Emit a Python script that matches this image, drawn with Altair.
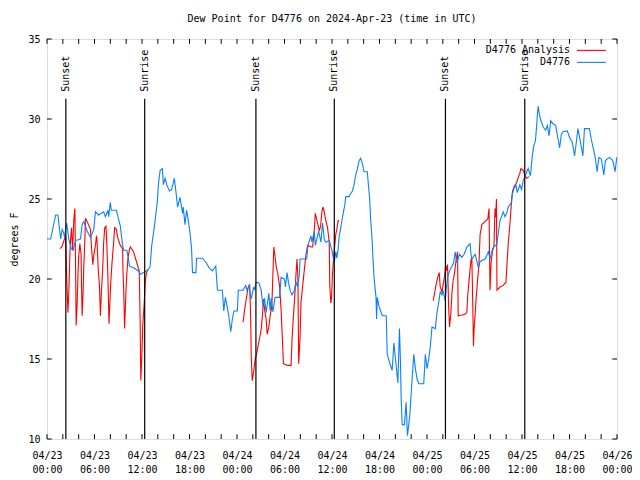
import altair as alt
import pandas as pd

# ---------------- data (hours since 2024-04-23 00:00 UTC, dew point in F) -------------
obs_hours = [0.00, 0.46, 1.09, 1.38, 1.72, 1.92, 2.10, 2.22, 2.48, 2.76, 3.05, 3.30, 3.61, 4.23,
             4.44, 4.65, 5.06, 5.49, 5.91, 6.12, 6.53, 7.16, 7.38, 7.70, 7.79, 8.00, 8.13, 8.76,
             9.26, 9.55, 9.68, 10.09, 10.43, 10.93, 11.56, 11.77, 12.19, 12.82, 13.03, 13.23,
             13.57, 13.95, 14.07, 14.29, 14.58, 14.70, 14.92, 15.12, 15.46, 15.75, 16.08, 16.30,
             16.50, 16.80, 17.13, 17.21, 17.43, 17.63, 17.84, 18.06, 18.26, 18.38, 18.81, 18.89,
             19.64, 20.14, 20.48, 20.90, 21.32, 21.53, 22.15, 22.33, 22.53, 22.78, 22.96, 23.21,
             23.41, 23.62, 24.04, 24.17, 24.76, 25.10, 25.26, 25.51, 25.80, 26.10, 26.22, 26.43,
             26.77, 27.06, 27.27, 27.48, 27.68, 28.02, 28.19, 28.31, 28.53, 28.81, 29.37, 29.57,
             30.00, 30.12, 30.32, 30.50, 30.70, 30.95, 31.25, 31.45, 31.67, 31.88, 31.96, 32.80,
             32.96, 33.34, 33.46, 33.76, 33.89, 34.09, 34.31, 34.60, 34.81, 35.02, 35.22, 35.65,
             35.98, 36.28, 36.48, 36.61, 36.78, 36.91, 37.07, 37.20, 37.45, 37.61, 37.74, 38.16,
             38.29, 38.58, 38.79, 38.99, 39.21, 39.42, 39.62, 39.84, 40.05, 40.46, 40.63, 40.76,
             40.88, 41.06, 41.18, 41.31, 41.56, 41.63, 41.72, 41.93, 42.35, 42.85, 42.98, 43.32,
             43.60, 43.82, 44.02, 44.14, 44.32, 44.52, 44.65, 44.74, 44.86, 45.15, 45.36, 45.53,
             45.70, 45.83, 46.12, 46.33, 46.53, 46.75, 46.96, 47.59, 47.79, 48.00, 48.22, 48.42,
             48.63, 49.05, 49.26, 49.47, 49.67, 49.89, 50.01, 50.30, 50.43, 50.64, 50.93, 51.36,
             51.56, 51.77, 52.11, 52.40, 52.69, 53.03, 53.44, 53.57, 53.66, 54.08, 54.50, 54.71,
             55.34, 55.76, 55.96, 56.30, 56.59, 56.80, 57.01, 57.22, 57.64, 57.84, 58.06, 58.27,
             58.68, 58.77, 59.02, 59.23, 59.40, 59.73, 59.94, 60.15, 60.48, 60.78, 61.07, 61.28,
             61.48, 61.70, 61.82, 61.95, 62.04, 62.16, 62.33, 62.67, 62.99, 63.21, 63.42, 63.62,
             63.92, 64.25, 64.55, 64.75, 64.97, 65.18, 65.72, 66.01, 66.35, 66.64, 66.85, 67.06,
             67.26, 67.69, 67.89, 68.52, 68.74, 69.03, 69.28, 69.49, 69.71, 70.03, 70.33, 70.54,
             71.04, 71.47, 71.76, 71.97]
obs_dew = [22.5, 22.5, 24.0, 24.0, 22.5, 23.1, 22.9, 22.6, 23.5, 22.5, 21.9, 21.8, 22.4, 22.5,
           23.4, 23.6, 23.0, 22.6, 23.1, 24.2, 24.0, 24.2, 23.9, 24.3, 23.9, 24.8, 24.3, 24.3,
           23.3, 22.1, 21.8, 21.8, 20.8, 20.7, 20.5, 20.3, 20.4, 20.6, 20.8, 22.1,
           23.3, 24.9, 25.9, 26.8, 26.9, 25.9, 26.3, 25.9, 25.5, 25.6, 26.3, 25.4,
           24.5, 25.1, 24.1, 24.5, 23.4, 24.3, 23.7, 22.9, 21.9, 20.4, 20.4, 21.3,
           21.3, 21.0, 20.7, 20.5, 20.8, 19.3, 19.3, 18.0, 18.85, 18.2, 17.7, 16.7,
           17.5, 18.0, 18.0, 19.3, 19.3, 19.6, 19.3, 19.6, 18.75, 19.5, 19.3, 19.8,
           19.75, 19.3, 18.3, 18.8, 17.9, 19.1, 18.0, 18.8, 17.95, 18.85, 18.85, 20.1,
           20.0, 19.5, 20.4, 19.8, 19.3, 19.0, 19.3, 19.8, 19.5, 20.3, 21.25, 21.25,
           22.1, 22.7, 22.3, 23.0, 22.1, 22.5, 23.0, 22.3, 23.5, 22.5, 22.3, 22.4,
           21.8, 21.0, 21.7, 21.3, 21.9, 22.7, 23.1, 23.5, 24.2, 24.6, 25.15, 25.15,
           25.3, 25.5, 25.9, 26.5, 26.9, 27.4, 27.55, 27.2, 26.7, 26.7, 25.7, 25.0,
           23.75, 22.5, 21.25, 20.1, 18.85, 17.5, 18.85, 18.3, 17.7, 17.7, 15.3, 14.7,
           14.3, 16.0, 15.0, 14.4, 13.5, 16.9, 14.8, 12.5, 10.9, 10.9, 12.3, 10.2,
           10.9, 11.5, 13.75, 15.3, 14.4, 13.75, 13.45, 13.45, 15.3, 14.4, 15.0, 15.8,
           17.0, 16.9, 17.9, 18.5, 19.2, 19.0, 19.3, 18.65, 19.4, 20.2, 20.6, 21.0,
           21.7, 21.0, 21.55, 21.35, 21.55, 22.0, 22.2, 21.5, 21.25, 21.55, 20.7, 21.1,
           21.25, 21.7, 21.25, 21.9, 22.1, 22.1, 22.9, 23.65, 24.2, 23.9, 24.1, 24.5,
           24.8, 25.3, 25.7, 25.9, 25.4, 25.9, 25.6, 26.15, 26.55, 26.9, 26.45, 27.6,
           28.3, 28.65, 29.4, 30.3, 30.8, 30.4, 30.0, 29.5, 29.3, 29.6, 28.95, 29.9,
           29.7, 29.6, 28.75, 28.2, 29.05, 29.2, 29.25, 28.85, 28.55, 27.7, 28.5, 29.4,
           28.9, 27.7, 29.4, 29.4, 28.75, 28.1, 27.5, 26.7, 27.6, 27.5, 26.5, 27.4,
           27.6, 27.4, 26.7, 27.6]

ana1_hours = [1.63, 1.88, 2.14, 2.35, 2.48, 2.64, 2.76, 2.89, 2.98, 3.10, 3.23, 3.39, 3.52, 3.61,
              3.68, 3.81, 3.93, 4.02, 4.15, 4.31, 4.36, 4.44, 4.56, 4.65, 4.78, 4.86, 5.06, 5.49,
              5.62, 5.78, 5.91, 6.12, 6.25, 6.32, 6.45, 6.62, 6.75, 6.87, 7.04, 7.16, 7.29, 7.45,
              7.58, 7.70, 7.83, 7.92, 8.08, 8.21, 8.42, 8.54, 8.76, 8.92, 9.26, 9.55, 9.59, 9.68,
              9.80, 9.97, 10.09, 10.22, 10.39, 10.52, 10.93, 11.35, 11.65, 11.77, 11.85, 11.97,
              12.10, 12.28, 12.40, 12.53, 12.73]
ana1_dew = [21.9, 22.0, 22.4, 22.7, 20.3, 17.9, 19.2, 21.5, 22.5, 23.2, 21.8, 23.75, 24.4, 20.7,
            17.1, 18.5, 20.6, 21.5, 22.2, 21.5, 19.6, 17.7, 19.2, 20.8, 22.5, 23.8, 23.6, 23.1,
            22.0, 20.9, 21.5, 22.1, 22.7, 22.4, 20.8, 19.6, 17.7, 19.2, 20.7, 22.3, 23.2, 23.3,
            21.9, 20.0, 17.2, 18.3, 20.0, 21.0, 22.3, 23.2, 23.1, 22.6, 22.1, 21.9, 20.6, 19.4,
            16.9, 19.2, 20.4, 21.25, 21.8, 22.0, 21.7, 21.0, 20.5, 17.2, 13.65, 15.0,
            17.1, 18.5, 19.7, 20.3, 20.6]

ana2_hours = [24.76, 24.97, 25.17, 25.38, 25.60, 25.72, 25.80, 25.92, 26.10, 26.30, 26.51, 26.73,
              26.93, 27.06, 27.21, 27.36, 27.48, 27.68, 27.81, 28.02, 28.19, 28.40, 28.53, 28.65,
              28.78, 28.94, 29.16, 29.37, 29.57, 29.78, 29.87, 30.41, 30.83, 30.95, 31.13, 31.33,
              31.45, 31.58, 31.70, 31.79, 31.96, 32.08, 32.30, 32.51, 32.71, 32.92, 33.34, 33.55,
              33.76, 33.89, 34.05, 34.27, 34.39, 34.56, 34.72, 34.85, 35.02, 35.22, 35.44, 35.65,
              35.72, 35.85, 35.94, 36.06, 36.19, 36.35, 36.48, 36.61, 36.78, 36.91]
ana2_dew = [17.3, 18.1, 18.75, 19.4, 19.6, 17.7, 15.2, 13.65, 14.2, 15.0, 15.4, 16.0,
            16.5, 16.9, 17.7, 18.75, 18.1, 17.5, 16.55, 17.0, 17.7, 18.3, 20.2, 22.0,
            21.5, 20.8, 20.3, 19.6, 18.1, 15.7, 14.7, 14.6, 14.6, 16.25, 17.7, 19.2,
            20.3, 21.25, 20.0, 14.7, 16.25, 18.5, 19.6, 20.6, 21.5, 22.1, 22.0, 22.0,
            23.0, 24.1, 23.75, 23.3, 23.0, 23.3, 24.2, 24.5, 24.2, 23.65, 23.2, 22.3,
            19.6, 18.5, 18.8, 20.3, 21.25, 22.1, 22.8, 23.1, 23.65, 23.65]

ana3_hours = [48.76, 48.92, 49.13, 49.35, 49.55, 49.67, 49.89, 50.10, 50.23, 50.35, 50.52, 50.60,
              50.73, 50.85, 51.02, 51.15, 51.27, 51.48, 51.69, 51.86, 51.94, 52.40, 52.81, 53.03,
              53.15, 53.24, 53.44, 53.57, 53.66, 53.74, 53.87, 53.95, 54.08, 54.20, 54.38, 54.55,
              54.71, 54.93, 55.34, 55.68, 55.76, 55.84, 55.89, 55.96, 56.09, 56.26, 56.46, 56.59,
              56.68, 56.77, 56.84, 57.22, 57.64, 57.97, 58.14, 58.27, 58.40, 58.56, 58.68, 58.81,
              59.02, 59.31, 59.53, 59.73, 59.85, 60.15, 60.36, 60.57, 60.91]
ana3_dew = [18.65, 19.0, 19.6, 20.1, 20.4, 19.5, 19.2, 19.8, 20.2, 20.9, 20.5, 20.9,
            18.3, 17.0, 17.9, 19.1, 19.8, 20.4, 21.25, 21.7, 17.7, 17.75, 17.8, 17.9,
            19.0, 19.5, 20.6, 21.25, 21.3, 19.6, 15.8, 16.9, 17.8, 18.75, 19.9, 20.8,
            22.8, 23.4, 23.6, 23.75, 24.1, 24.4, 21.9, 19.3, 21.0, 21.7, 22.1, 24.4,
            23.85, 25.0, 19.3, 19.5, 19.6, 19.8, 21.25, 22.3, 23.0, 24.0, 24.9, 25.5,
            25.8, 26.0, 26.35, 26.6, 26.9, 26.8, 26.5, 26.3, 26.4]

event_hours = [2.38, 12.34, 26.39, 36.29, 50.33, 60.35]
event_names = ["Sunset", "Sunrise", "Sunset", "Sunrise", "Sunset", "Sunrise"]

x_tick_labels = list(range(0, 73, 6))
x_minor_ticks = list(range(0, 73, 2))
y_ticks = [10, 15, 20, 25, 30, 35]

legend_names = ["D4776 Analysis", "D4776"]
legend_colors = ["#ff0000", "#0a80ff"]

# ---------------- build tables ----------------
obs = pd.DataFrame({"h": obs_hours, "dew": obs_dew})
ana = pd.concat([
    pd.DataFrame({"h": ana1_hours, "dew": ana1_dew, "seg": 1}),
    pd.DataFrame({"h": ana2_hours, "dew": ana2_dew, "seg": 2}),
    pd.DataFrame({"h": ana3_hours, "dew": ana3_dew, "seg": 3}),
])
events = pd.DataFrame({"h": event_hours, "name": event_names})
xt = pd.DataFrame({"h": x_minor_ticks})
yt = pd.DataFrame({"dew": y_ticks})
leg = pd.DataFrame({"name": legend_names, "color": legend_colors,
                    "dew": [34.29, 33.54]})

FONT = "DejaVu Sans Mono"
XMIN, XMAX, YMIN, YMAX = 0, 72, 10, 35
xs = alt.Scale(domain=[XMIN, XMAX], nice=False, zero=False)
ys = alt.Scale(domain=[YMIN, YMAX], nice=False, zero=False)

label_expr = ("['04/' + (23 + floor(datum.value / 24)), "
              "(datum.value % 24 < 10 ? '0' : '') + (datum.value % 24) + ':00']")

x_axis = alt.Axis(values=x_tick_labels, labelExpr=label_expr, tickSize=0, domain=False,
                  grid=False, labelFont=FONT, labelFontSize=10, labelColor="black",
                  labelPadding=11, labelLineHeight=14, labelFlush=False, labelOverlap=False,
                  title="")
y_axis = alt.Axis(values=y_ticks, tickSize=0, domain=False, grid=False, labelFont=FONT,
                  labelFontSize=10, labelColor="black", labelPadding=7, labelFlush=False,
                  title="degrees F", titleFont=FONT, titleFontSize=10, titleFontWeight="normal",
                  titleColor="black", titleX=-33, titleY=200, titleAngle=270,
                  titleAlign="center", titleBaseline="middle")

X = alt.X("h:Q", scale=xs, axis=x_axis)
Y = alt.Y("dew:Q", scale=ys, axis=y_axis)

ana_line = alt.Chart(ana).mark_line(color="#ff0000", strokeWidth=1.1).encode(
    x=X, y=Y, detail="seg:N")
obs_line = alt.Chart(obs).mark_line(color="#0a80ff", strokeWidth=1.1).encode(x=X, y=Y)
ev_rule = alt.Chart(events).mark_rule(color="black", strokeWidth=1.2).encode(
    x=X, y=alt.datum(31.27), y2=alt.datum(YMIN))
ev_text = alt.Chart(events).mark_text(angle=270, align="left", baseline="middle",
                                      font=FONT, fontSize=10, color="black").encode(
    x=X, y=alt.datum(31.7), text="name:N")
xt_bottom = alt.Chart(xt).mark_rule(color="black", strokeWidth=1).encode(
    x=X, y=alt.datum(YMIN), y2=alt.datum(YMIN + 0.3))
xt_top = alt.Chart(xt).mark_rule(color="black", strokeWidth=1).encode(
    x=X, y=alt.datum(YMAX), y2=alt.datum(YMAX - 0.3))
yt_left = alt.Chart(yt).mark_rule(color="black", strokeWidth=1).encode(
    y=Y, x=alt.datum(XMIN), x2=alt.datum(XMIN + 0.6))
yt_right = alt.Chart(yt).mark_rule(color="black", strokeWidth=1).encode(
    y=Y, x=alt.datum(XMAX), x2=alt.datum(XMAX - 0.6))

leg_text = alt.Chart(leg).mark_text(align="right", baseline="middle", font=FONT,
                                    fontSize=10, color="black").encode(
    x=alt.datum(66.08), y=Y, text="name:N")
leg_line = alt.Chart(leg).mark_rule(strokeWidth=1.1).encode(
    x=alt.datum(66.95), x2=alt.datum(70.6), y=Y,
    color=alt.Color("color:N", scale=None))

chart = alt.layer(
    ana_line, obs_line, ev_rule, ev_text, xt_bottom, xt_top, yt_left, yt_right,
    leg_text, leg_line,
).properties(
    width=570, height=400,
    title=alt.TitleParams("Dew Point for D4776 on 2024-Apr-23 (time in UTC)", font=FONT,
                          fontSize=10, fontWeight="normal", color="black",
                          anchor="middle", offset=10),
    autosize=alt.AutoSizeParams(type="none"),
    padding={"left": 39, "top": 31, "right": 15, "bottom": 34},
).configure_view(stroke="black", strokeWidth=1).configure(background="white")

chart.save("out.html", embed_options={"renderer": "svg", "actions": False})
